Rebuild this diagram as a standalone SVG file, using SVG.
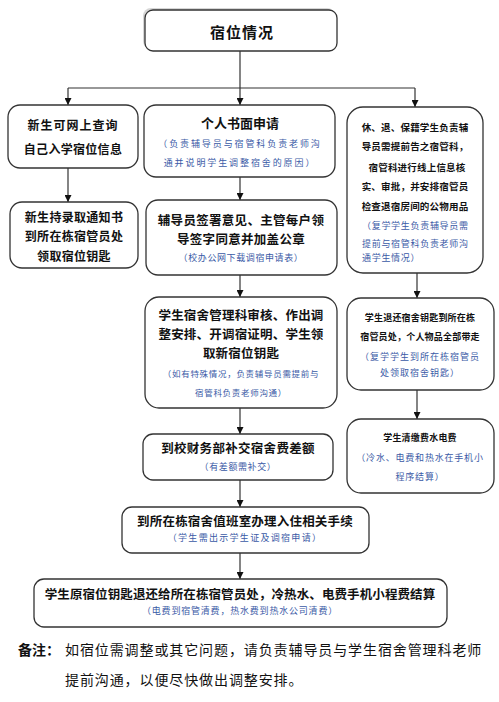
<svg xmlns="http://www.w3.org/2000/svg" width="499" height="702" viewBox="0 0 499 702">
<style>
.box{fill:#fff;stroke:#333;stroke-width:1.3}
.t{font-family:"Noto Sans CJK SC","Noto Sans",sans-serif;font-weight:bold;fill:#111;text-anchor:middle}
.s{font-family:"Noto Sans CJK SC","Noto Sans",sans-serif;fill:#3a5aa6;text-anchor:middle}
.c{fill:none;stroke:#333;stroke-width:1.2}
.a{marker-end:url(#ah)}
.n{font-family:"Noto Sans CJK SC","Noto Sans",sans-serif;fill:#111;font-size:14px}
</style>
<defs>
<marker id="ah" viewBox="0 0 10 10" refX="10" refY="5" markerWidth="7" markerHeight="7" markerUnits="userSpaceOnUse" orient="auto">
<path d="M0,0 L10,5 L0,10 z" fill="#111"/>
</marker>
</defs>
<rect width="499" height="702" fill="#fff"/>
<g id="connectors">
<path class="c" d="M240 51 V88"/>
<path class="c" d="M68 88 H415"/>
<path class="c a" d="M68 88 V105"/>
<path class="c a" d="M240 88 V105"/>
<path class="c a" d="M415 88 V107"/>
<path class="c a" d="M68 168 V202"/>
<path class="c a" d="M240 177 V200"/>
<path class="c a" d="M240 275 V297"/>
<path class="c a" d="M417 273 V298"/>
<path class="c a" d="M240 408 V434"/>
<path class="c a" d="M417 390 V419"/>
<path class="c a" d="M240 480 V507"/>
<path class="c a" d="M240 553 V579"/>
</g>
<g id="n-top">
<rect x="143" y="8" width="192" height="41" rx="8" fill="#bbb" opacity="0.6"/>
<rect class="box" x="145" y="10" width="192" height="41" rx="8"/>
<text class="t" x="242" y="38" font-size="15" letter-spacing="1">宿位情况</text>
</g>
<g id="n-left1">
<rect class="box" x="8" y="105" width="130" height="63" rx="12"/>
<text class="t" x="73" y="130" font-size="12" letter-spacing="1">新生可网上查询</text>
<text class="t" x="73" y="154" font-size="12" letter-spacing="0.3">自己入学宿位信息</text>
</g>
<g id="n-left2">
<rect class="box" x="10" y="202" width="128" height="66" rx="12"/>
<text class="t" x="74" y="222" font-size="12" letter-spacing="0.3">新生持录取通知书</text>
<text class="t" x="74" y="241" font-size="12" letter-spacing="0.3">到所在栋宿管员处</text>
<text class="t" x="74" y="261" font-size="12" letter-spacing="0.3">领取宿位钥匙</text>
</g>
<g id="n-mid1">
<rect class="box" x="144" y="105" width="191" height="72" rx="12"/>
<text class="t" x="240" y="128" font-size="13">个人书面申请</text>
<text class="s" x="240" y="147" font-size="9" letter-spacing="1.9">（负责辅导员与宿管科负责老师沟</text>
<text class="s" x="240" y="166" font-size="9" letter-spacing="1.9">通并说明学生调整宿舍的原因）</text>
</g>
<g id="n-mid2">
<rect class="box" x="146" y="200" width="191" height="75" rx="12"/>
<text class="t" x="241" y="225" font-size="12.5" letter-spacing="0.3">辅导员签署意见、主管每户领</text>
<text class="t" x="241" y="244" font-size="12.5" letter-spacing="0.3">导签字同意并加盖公章</text>
<text class="s" x="241" y="261" font-size="9" letter-spacing="0.6">（校办公网下载调宿申请表）</text>
</g>
<g id="n-mid3">
<rect class="box" x="145" y="297" width="192" height="111" rx="14"/>
<text class="t" x="241" y="320" font-size="12.5" letter-spacing="0.2">学生宿舍管理科审核、作出调</text>
<text class="t" x="241" y="339" font-size="12.5" letter-spacing="0.2">整安排、开调宿证明、学生领</text>
<text class="t" x="241" y="358" font-size="12.5" letter-spacing="0.2">取新宿位钥匙</text>
<text class="s" x="241" y="377" font-size="8.5" letter-spacing="0.7">（如有特殊情况，负责辅导员需提前与</text>
<text class="s" x="241" y="396" font-size="8.5" letter-spacing="0.7">宿管科负责老师沟通）</text>
</g>
<g id="n-mid4">
<rect class="box" x="143" y="434" width="190" height="46" rx="10"/>
<text class="t" x="238" y="453" font-size="12.5" letter-spacing="0.3">到校财务部补交宿舍费差额</text>
<text class="s" x="238" y="470" font-size="9" letter-spacing="0.6">（有差额需补交）</text>
</g>
<g id="n-mid5">
<rect class="box" x="122" y="507" width="247" height="46" rx="10"/>
<text class="t" x="245" y="526" font-size="12.5" letter-spacing="0.2">到所在栋宿舍值班室办理入住相关手续</text>
<text class="s" x="245" y="541" font-size="9" letter-spacing="1.3">（学生需出示学生证及调宿申请）</text>
</g>
<g id="n-mid6">
<rect class="box" x="34" y="579" width="413" height="48" rx="10"/>
<text class="t" x="240" y="599" font-size="12.5" letter-spacing="0.1">学生原宿位钥匙退还给所在栋宿管员处，冷热水、电费手机小程费结算</text>
<text class="s" x="240" y="614" font-size="9" letter-spacing="0.8">（电费到宿管清费，热水费到热水公司清费）</text>
</g>
<g id="n-right1">
<rect class="box" x="347" y="107" width="136" height="166" rx="16"/>
<text class="t" x="415" y="131" font-size="9.5" letter-spacing="0.2">休、退、保籍学生负责辅</text>
<text class="t" x="415" y="150" font-size="9.5" letter-spacing="0.2">导员需提前告之宿管科，</text>
<text class="t" x="417" y="171" font-size="9.5" letter-spacing="0.2">宿管科进行线上信息核</text>
<text class="t" x="415" y="190" font-size="9.5" letter-spacing="0.2">实、审批，并安排宿管员</text>
<text class="t" x="415" y="210" font-size="9.5" letter-spacing="0.2">检查退宿房间的公物用品</text>
<text class="s" x="362" y="229" font-size="9" letter-spacing="0.7" style="text-anchor:start">（复学学生负责辅导员需</text>
<text class="s" x="362" y="247" font-size="9" letter-spacing="0.7" style="text-anchor:start">提前与宿管科负责老师沟</text>
<text class="s" x="362" y="261" font-size="9" letter-spacing="0.7" style="text-anchor:start">通学生情况）</text>
</g>
<g id="n-right2">
<rect class="box" x="347" y="298" width="147" height="92" rx="14"/>
<text class="t" x="420" y="321" font-size="9" letter-spacing="0.2">学生退还宿舍钥匙到所在栋</text>
<text class="t" x="420" y="340" font-size="9" letter-spacing="0.2">宿管员处，个人物品全部带走</text>
<text class="s" x="420" y="360" font-size="9" letter-spacing="1">（复学学生到所在栋宿管员</text>
<text class="s" x="420" y="376" font-size="9" letter-spacing="1">处领取宿舍钥匙）</text>
</g>
<g id="n-right3">
<rect class="box" x="347" y="419" width="147" height="74" rx="14"/>
<text class="t" x="420" y="441" font-size="9" letter-spacing="0.2">学生清缴费水电费</text>
<text class="s" x="420" y="461" font-size="9" letter-spacing="0.8">（冷水、电费和热水在手机小</text>
<text class="s" x="420" y="480" font-size="9" letter-spacing="0.8">程序结算）</text>
</g>
<g id="note">
<text class="n" x="18" y="655" font-weight="bold">备注：</text>
<text class="n" x="65" y="655" letter-spacing="0.9">如宿位需调整或其它问题，请负责辅导员与学生宿舍管理科老师</text>
<text class="n" x="65" y="685" letter-spacing="0.9">提前沟通，以便尽快做出调整安排。</text>
</g>
</svg>
